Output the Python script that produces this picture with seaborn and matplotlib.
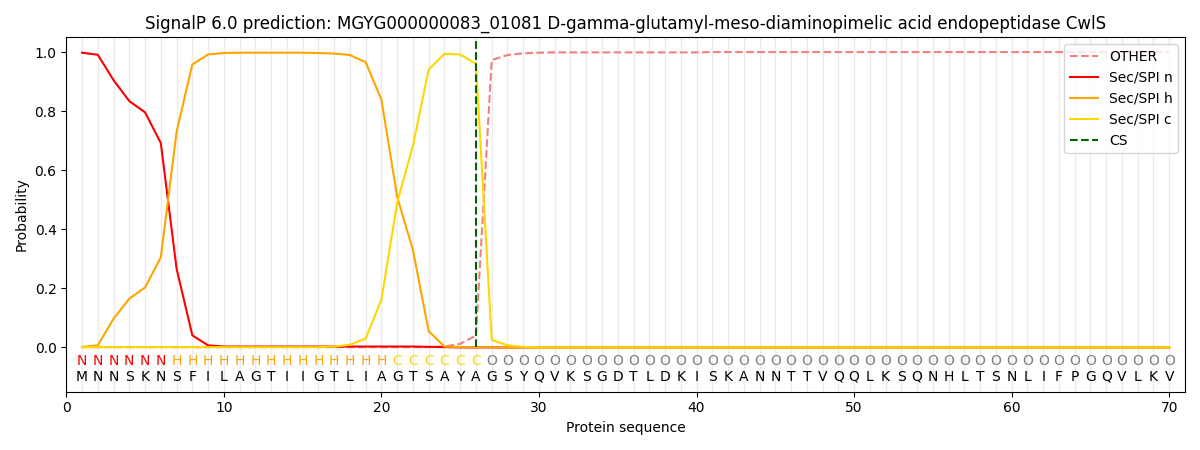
import numpy as np
import pandas as pd
import matplotlib
matplotlib.use("Agg")
import matplotlib.pyplot as plt
import seaborn as sns

sequence = list("MNNSKNSFILAGTIIGTLIAGTSAYAGSYQVKSGDTLDKISKANNTTVQQLKSQNHLTSNLIFPGQVLKV")
labels = list("NNNNNN" + "HHHHHHHHHHHHHH" + "CCCCCC" + "O" * 44)

prob_n = [0.998, 0.991, 0.905, 0.834, 0.796, 0.692, 0.267, 0.041, 0.007, 0.003,
          0.003, 0.003, 0.003, 0.003, 0.003, 0.003, 0.003, 0.003, 0.003, 0.003,
          0.003, 0.003, 0.002, 0.001] + [0.0] * 46
prob_h = [0.002, 0.007, 0.097, 0.165, 0.203, 0.305, 0.73, 0.958, 0.992, 0.997,
          0.998, 0.998, 0.998, 0.998, 0.998, 0.997, 0.995, 0.99, 0.966, 0.839,
          0.51, 0.33, 0.055, 0.003, 0.001] + [0.0] * 45
prob_c = [0.001] * 16 + [0.003, 0.009, 0.03, 0.162, 0.49, 0.683, 0.941, 0.994,
                         0.992, 0.96, 0.026, 0.007, 0.002] + [0.0] * 41
prob_other = [0.001] * 23 + [0.003, 0.012, 0.04, 0.973, 0.99, 0.996, 0.998] + [0.999] * 10 + [1.0] * 30
cs_site = 26

pos = np.arange(1, len(sequence) + 1)
df = pd.DataFrame({"pos": pos, "OTHER": prob_other, "Sec/SPI n": prob_n,
                   "Sec/SPI h": prob_h, "Sec/SPI c": prob_c})

label_colors = {"N": "red", "H": "orange", "C": "gold", "O": "gray"}

fig, ax = plt.subplots(figsize=(12, 4.5))

for p in pos:
    ax.axvline(p, color="#ebebeb", lw=1, zorder=0)

sns.lineplot(data=df, x="pos", y="OTHER", color="lightcoral", linestyle="--", label="OTHER", ax=ax)
sns.lineplot(data=df, x="pos", y="Sec/SPI n", color="red", label="Sec/SPI n", ax=ax)
sns.lineplot(data=df, x="pos", y="Sec/SPI h", color="orange", label="Sec/SPI h", ax=ax)
sns.lineplot(data=df, x="pos", y="Sec/SPI c", color="gold", label="Sec/SPI c", ax=ax)
ax.vlines(cs_site, 0, 1.04, color="darkgreen", linestyle="--", label="CS")

for p, lab, aa in zip(pos, labels, sequence):
    ax.text(p, -0.047, lab, color=label_colors[lab], ha="center", va="center", fontsize=10)
    ax.text(p, -0.10, aa, color="black", ha="center", va="center", fontsize=10)

ax.set_xlim(0, 71)
ax.set_ylim(-0.15, 1.05)
ax.set_xlabel("Protein sequence")
ax.set_ylabel("Probability")
ax.set_title("SignalP 6.0 prediction: MGYG000000083_01081 D-gamma-glutamyl-meso-diaminopimelic acid endopeptidase CwlS")
ax.legend(loc="upper right")

plt.tight_layout()
plt.savefig("out.png", dpi=100)
